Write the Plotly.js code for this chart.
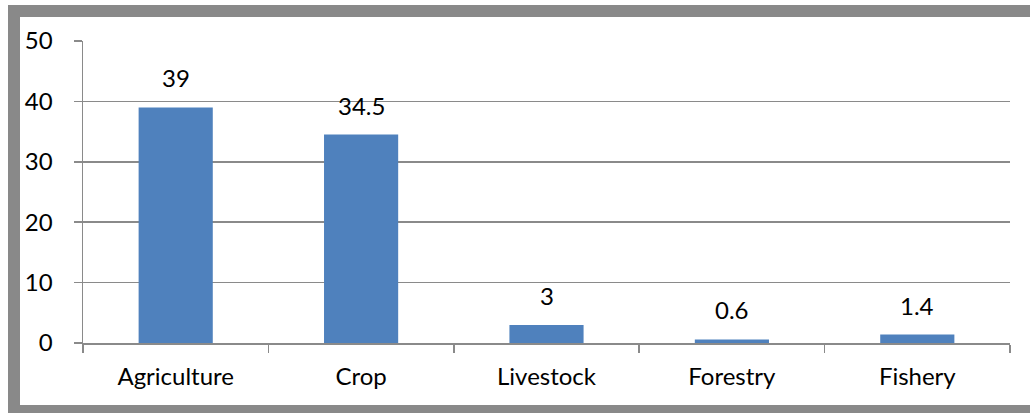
<!DOCTYPE html>
<html>
<head>
<meta charset="utf-8">
<script src="https://cdn.plot.ly/plotly-3.0.1.min.js"></script>
<style>
  html, body { margin: 0; padding: 0; background: #ffffff; }
  #wrap { position: relative; width: 1030px; height: 413px; overflow: hidden; }
  #frame { position: absolute; left: 8px; top: 5px; width: 1060px; height: 412px; border: 12px solid #898989; box-sizing: border-box; background: #ffffff; }
  #chart { position: absolute; left: 0; top: 0; width: 1030px; height: 413px; }
</style>
</head>
<body>
<div id="wrap">
  <div id="frame"></div>
  <div id="chart"></div>
</div>
<script>
const categories = ["Agriculture", "Crop", "Livestock", "Forestry", "Fishery"];
const values = [39, 34.5, 3, 0.6, 1.4];
const valueLabels = ["39", "34.5", "3", "0.6", "1.4"];
const yTicks = [0, 10, 20, 30, 40, 50];

const gray = "#8a8a8a";
const fontFamily = "Lato, 'Open Sans', sans-serif";
const fontSize = 24;

const trace = {
  type: "bar",
  x: categories,
  y: values,
  marker: { color: "#4f81bd" },
  width: 0.4,
  hoverinfo: "x+y"
};

const annotations = categories.map((c, i) => ({
  x: c, y: values[i], xref: "x", yref: "y",
  text: valueLabels[i], showarrow: false,
  yanchor: "bottom", yshift: 13,
  font: { family: fontFamily, size: fontSize, color: "#000000" }
}));

const layout = {
  width: 1030, height: 413,
  margin: { l: 83, r: 20, t: 41, b: 70 },
  paper_bgcolor: "rgba(0,0,0,0)",
  plot_bgcolor: "rgba(0,0,0,0)",
  showlegend: false,
  bargap: 0.6,
  xaxis: {
    type: "category",
    tickson: "boundaries",
    ticks: "outside", ticklen: 8, tickwidth: 1.5, tickcolor: gray,
    showline: true, linecolor: gray, linewidth: 1.5,
    showgrid: false, zeroline: false,
    ticklabelstandoff: 12,
    tickfont: { family: fontFamily, size: fontSize, color: "#000000" },
    fixedrange: true
  },
  yaxis: {
    range: [0, 50],
    tickvals: yTicks,
    ticktext: yTicks.map(String),
    ticks: "outside", ticklen: 8, tickwidth: 1.5, tickcolor: gray,
    showline: true, linecolor: gray, linewidth: 1.5,
    showgrid: true, gridcolor: gray, gridwidth: 1.5,
    zeroline: false,
    ticklabelstandoff: 16,
    tickfont: { family: fontFamily, size: fontSize, color: "#000000" },
    fixedrange: true
  },
  annotations: annotations
};

Plotly.newPlot("chart", [trace], layout, { displayModeBar: false, staticPlot: true });
</script>
</body>
</html>
